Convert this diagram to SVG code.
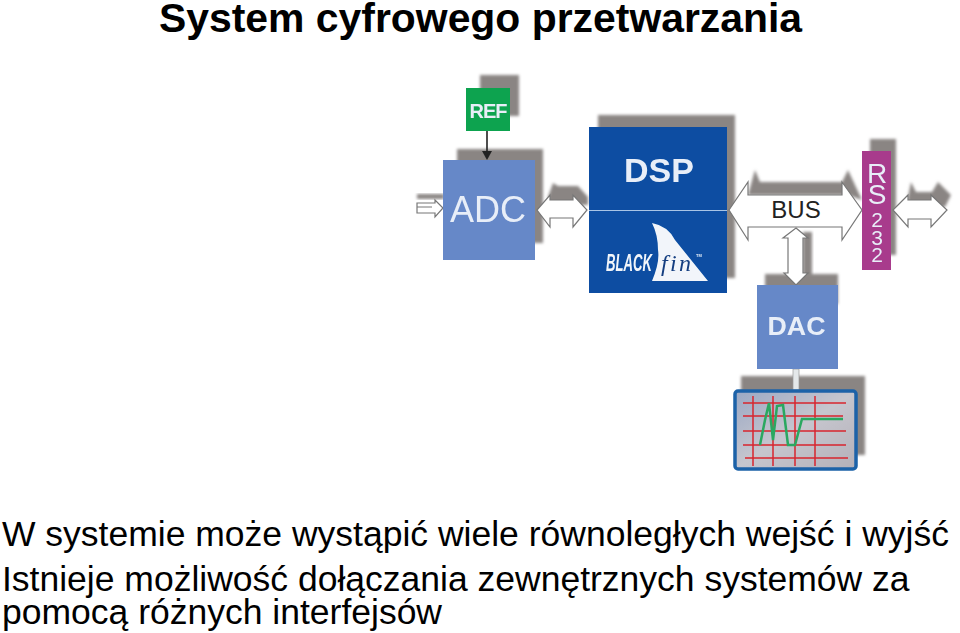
<svg xmlns="http://www.w3.org/2000/svg" width="960" height="633" viewBox="0 0 960 633">
<style>
.t{font-family:"Liberation Sans",Arial,sans-serif;fill:#000}
.l{font-family:"Liberation Sans",Arial,sans-serif;fill:#e8eef8;text-anchor:middle}
.sh{fill:#8a8583;filter:url(#b)}
.ar{fill:#fff;stroke:#777;stroke-width:1.2}
.gr{stroke:#d8262e;stroke-width:1.5;fill:none}
</style>
<defs>
<filter id="b" x="-20%" y="-20%" width="140%" height="140%"><feGaussianBlur stdDeviation="1.8"/></filter>
<filter id="s" x="-5%" y="-5%" width="110%" height="110%"><feGaussianBlur stdDeviation="0.45"/></filter>
<linearGradient id="scr" x1="0" y1="0" x2="1" y2="1"><stop offset="0" stop-color="#9aa8c4"/><stop offset="0.5" stop-color="#c6c6ce"/><stop offset="1" stop-color="#b4b0b8"/></linearGradient>
</defs>
<rect width="960" height="633" fill="#fff"/>
<text class="t" x="159" y="32" font-size="40.900" font-weight="bold">System cyfrowego przetwarzania</text>
<g id="shadows">
<rect class="sh" x="480" y="75" width="39" height="41"/>
<rect class="sh" x="457" y="149" width="86" height="94"/>
<rect class="sh" x="598" y="115" width="137" height="163"/>
<rect class="sh" x="870" y="139" width="26" height="116"/>
<rect class="sh" x="765" y="274" width="73" height="30"/>
<rect class="sh" x="741" y="376" width="124" height="79"/>
<path class="sh" d="M548 197L553 183L558 186L578 186L588 197V205H548Z"/>
<path class="sh" d="M748 195L755 170L760 182H842L848 170L862 200L848 195Z"/>
<path class="sh" d="M908 197L911 182L916 192H932L938 182L951 195L945 207H908Z"/>
<rect class="sh" x="803" y="232" width="9" height="45"/>
<rect class="sh" x="417" y="194" width="27" height="5"/>
</g>
<g id="connectors" filter="url(#s)">
<path class="ar" d="M417 203H435V200L443 208L435 217V213H417Z"/>
<path d="M417 207H432" stroke="#777" fill="none"/>
<path d="M487 131V155" stroke="#222" stroke-width="1.6" fill="none"/>
<path d="M482 151H492L487 160Z" fill="#222"/>
<path class="ar" d="M537 210L550 195V200H573V195L587 210L573 227V218H550V227Z"/>
<path class="ar" d="M729 210L748 182V195H842V182L862 210L842 240V227H748V240Z"/>
<path class="ar" d="M796 228L808 238H803V273H808L796 285L784 273H788V238H783Z"/>
<path class="ar" d="M893 210L908 195V200H931V195L947 210L931 227V219H908V227Z"/>
<rect x="793" y="369" width="6" height="21" fill="#e4e8ea" stroke="#999" stroke-width="0.7"/>
</g>
<g id="ref" filter="url(#s)"><rect x="466" y="88" width="44" height="43" fill="#0ea34f"/><text class="l" x="488" y="118" font-size="20" font-weight="bold" style="letter-spacing:-1px">REF</text></g>
<g id="adc" filter="url(#s)"><rect x="443" y="160" width="92" height="100" fill="#6688c8"/><text class="l" x="488" y="222" font-size="36">ADC</text></g>
<g id="dsp" filter="url(#s)"><rect x="589" y="127" width="138" height="166" fill="#0a4ea2"/><path d="M589 210.500H727" stroke="#a8c4e6" stroke-width="1"/><text class="l" x="659" y="182" font-size="34" font-weight="bold">DSP</text>
<path d="M652 223Q668 226 675 240L708 281H652Q660 262 658 250Q658 235 652 223Z" fill="#f2f5fa"/>
<text x="606" y="271" font-family="Liberation Sans,Arial,sans-serif" font-size="24" font-weight="bold" font-style="italic" fill="#f2f5fa" textLength="46" lengthAdjust="spacingAndGlyphs">BLACK</text>
<text x="661" y="271" font-family="Liberation Serif,serif" font-size="24" font-style="italic" fill="#123e80" textLength="30" lengthAdjust="spacing">fin</text>
<text x="696" y="257" font-family="Liberation Sans,Arial,sans-serif" font-size="4" font-weight="bold" fill="#e8eef8">TM</text></g>
<g id="bus"><text x="796" y="218" font-family="Liberation Sans,Arial,sans-serif" font-size="24" text-anchor="middle" fill="#222">BUS</text></g>
<g id="rs232" filter="url(#s)"><rect x="862" y="151" width="29" height="119" fill="#a83b8c"/>
<text class="l"><tspan x="877" y="183" font-size="28">R</tspan><tspan x="877" y="204" font-size="28">S</tspan><tspan x="877" y="227" font-size="21">2</tspan><tspan x="877" y="245" font-size="21">3</tspan><tspan x="877" y="262" font-size="21">2</tspan></text></g>
<g id="dac" filter="url(#s)"><rect x="757" y="285" width="81" height="84" fill="#6688c8"/><text class="l" x="796.500" y="335" font-size="26" font-weight="bold" textLength="58" lengthAdjust="spacingAndGlyphs">DAC</text></g>
<g id="monitor" filter="url(#s)"><rect x="735" y="391" width="121" height="78" rx="3" fill="url(#scr)" stroke="#1e62a8" stroke-width="3.500"/>
<path class="gr" d="M743 403H846M743 416H843M743 431H846M743 445H846M745 458H848M753 396V466M773 396V466M795 396V466M815 396V466"/>
<path d="M760 445L765 420L769 403L773 440L777 406L783 405L788 445L795 445L802 419H843" fill="none" stroke="#2aa860" stroke-width="2.500"/></g>
<text class="t" x="2" y="546" font-size="35.500">W systemie może wystąpić wiele równoległych wejść i wyjść</text>
<text class="t" x="2" y="591" font-size="35.500">Istnieje możliwość dołączania zewnętrznych systemów za</text>
<text class="t" x="2" y="624" font-size="35.500">pomocą różnych interfejsów</text>
</svg>
